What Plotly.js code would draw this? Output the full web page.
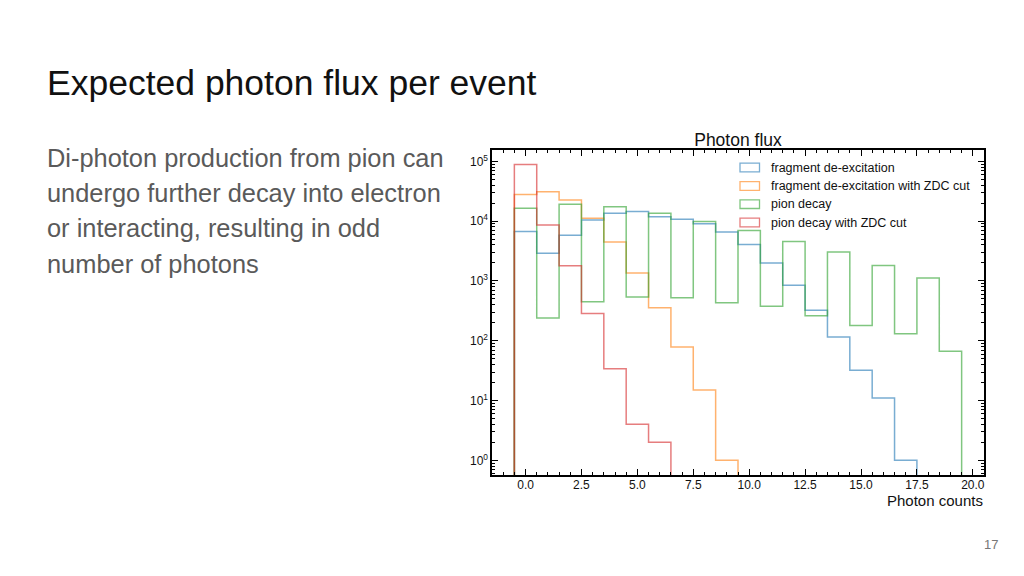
<!DOCTYPE html>
<html>
<head>
<meta charset="utf-8">
<script src="https://cdn.plot.ly/plotly-3.0.1.min.js"></script>
<style>
  html, body { margin: 0; padding: 0; background: #ffffff; }
  #chart { width: 1024px; height: 576px; }
</style>
</head>
<body>
<div id="chart"></div>
<script>
// ---------------- data ----------------
const binEdges = [-0.5, 0.5, 1.5, 2.5, 3.5, 4.5, 5.5, 6.5, 7.5, 8.5, 9.5,
                  10.5, 11.5, 12.5, 13.5, 14.5, 15.5, 16.5, 17.5, 18.5, 19.5];

const fragmentDeexcitation = [6700, 2900, 5840, 10500, 13600, 14450, 11900, 10800, 9020, 6560,
                              4070, 2000, 845, 324, 115, 32, 11, 1, 0, 0];
const fragmentDeexcitationZDC = [28000, 31000, 22600, 11200, 4470, 1360, 355, 79, 15, 1,
                                 0, 0, 0, 0, 0, 0, 0, 0, 0, 0];
const pionDecay = [16500, 240, 19200, 447, 17500, 541, 13600, 525, 9860, 430,
                   7000, 378, 4570, 263, 3040, 180, 1820, 131, 1120, 67];
const pionDecayZDC = [89000, 8600, 1800, 285, 34, 4, 2, 0, 0, 0,
                      0, 0, 0, 0, 0, 0, 0, 0, 0, 0];

const seriesNames = ["fragment de-excitation", "fragment de-excitation with ZDC cut",
                     "pion decay", "pion decay with ZDC cut"];

const yTickValues = [1, 10, 100, 1000, 10000, 100000];
const yTickLabels = ["10<sup>0</sup>", "10<sup>1</sup>", "10<sup>2</sup>",
                     "10<sup>3</sup>", "10<sup>4</sup>", "10<sup>5</sup>"];

const slideTitle = "Expected photon flux per event";
const bodyLines = ["Di-photon production from pion can",
                   "undergo further decay into electron",
                   "or interacting, resulting in odd",
                   "number of photons"];
const chartTitle = "Photon flux";
const xAxisTitle = "Photon counts";
const pageNumber = "17";

// ---------------- styling ----------------
const colors = ["rgba(31,119,180,0.6)", "rgba(255,127,14,0.6)",
                "rgba(44,160,44,0.6)", "rgba(214,39,40,0.6)"];
const FONT = "Liberation Sans, Arial, Helvetica, sans-serif";
const FLOOR = 1e-3; // zero-count bins drop below the visible log range

// plot area in pixels
const L = 492, R = 40, T = 150, B = 101, W = 1024, H = 576;
const PW = W - L - R, PH = H - T - B;
const px = x => (x - L) / PW;
const py = y => (H - B - y) / PH;

function stepTrace(counts, edges, color, name) {
  const xs = [edges[0]], ys = [FLOOR];
  for (let i = 0; i < counts.length; i++) {
    xs.push(edges[i]);
    ys.push(counts[i] > 0 ? counts[i] : FLOOR);
  }
  xs.push(edges[edges.length - 1]);
  ys.push(FLOOR);
  return {
    type: "scatter", mode: "lines", x: xs, y: ys, name: name,
    line: {shape: "hv", color: color, width: 1.5},
    hoverinfo: "skip", showlegend: false
  };
}

const allSeries = [fragmentDeexcitation, fragmentDeexcitationZDC, pionDecay, pionDecayZDC];
const traces = allSeries.map((s, i) => stepTrace(s, binEdges, colors[i], seriesNames[i]));

// ---------------- legend (manual, outlined patches) ----------------
const legendRows = [167.5, 186, 204.2, 222.5];
const shapes = [];
const annotations = [];
legendRows.forEach((yc, i) => {
  shapes.push({
    type: "rect", xref: "paper", yref: "paper",
    x0: px(740), x1: px(759.5), y0: py(yc + 4.3), y1: py(yc - 4.3),
    line: {color: colors[i], width: 1.3}, fillcolor: "rgba(0,0,0,0)"
  });
  annotations.push({
    xref: "paper", yref: "paper", x: px(769), y: py(yc),
    xanchor: "left", yanchor: "middle", showarrow: false,
    text: seriesNames[i], font: {family: FONT, size: 12.5, color: "#111"}
  });
});

// x axis title, right aligned
annotations.push({
  xref: "paper", yref: "paper", x: 1, y: py(500.5),
  xanchor: "right", yanchor: "middle", showarrow: false, borderpad: 0,
  text: xAxisTitle, font: {family: FONT, size: 15, color: "#111"}
});

// slide text
annotations.push({
  xref: "paper", yref: "paper", x: px(45), y: py(82.5),
  xanchor: "left", yanchor: "middle", showarrow: false,
  text: slideTitle, font: {family: FONT, size: 35.5, color: "#111"}
});
const bodyY = [157.5, 193, 228.2, 263.5];
bodyLines.forEach((t, i) => {
  annotations.push({
    xref: "paper", yref: "paper", x: px(45), y: py(bodyY[i]),
    xanchor: "left", yanchor: "middle", showarrow: false,
    text: t, font: {family: FONT, size: 25.4, color: "#5a5a5a"}
  });
});
annotations.push({
  xref: "paper", yref: "paper", x: px(1000), y: py(544.5),
  xanchor: "right", yanchor: "middle", showarrow: false,
  text: pageNumber, font: {family: FONT, size: 13, color: "#777"}
});

const layout = {
  width: W, height: H, autosize: false,
  margin: {l: L, r: R, t: T, b: B, pad: 0},
  paper_bgcolor: "#ffffff", plot_bgcolor: "#ffffff",
  font: {family: FONT, color: "#111"},
  showlegend: false,
  title: {
    text: chartTitle, font: {family: FONT, size: 17.5, color: "#111"},
    xref: "paper", x: 0.5, xanchor: "center",
    yref: "container", y: 1 - 139.5 / H, yanchor: "middle"
  },
  xaxis: {
    range: [-1.5, 20.5], tickmode: "linear", tick0: 0, dtick: 2.5, tickformat: ".1f",
    ticks: "inside", ticklen: 6, tickwidth: 1, tickcolor: "#000",
    ticklabelstandoff: -2,
    minor: {tickmode: "linear", tick0: 0, dtick: 0.5, ticks: "inside", ticklen: 3, tickwidth: 1, tickcolor: "#000"},
    showline: true, linecolor: "#000", linewidth: 1.6, mirror: "ticks",
    showgrid: false, zeroline: false,
    tickfont: {family: FONT, size: 12, color: "#111"}
  },
  yaxis: {
    type: "log", range: [-0.245, 5.19],
    tickmode: "array", tickvals: yTickValues, ticktext: yTickLabels,
    ticks: "inside", ticklen: 6, tickwidth: 1, tickcolor: "#000",
    minor: {dtick: "D1", ticks: "inside", ticklen: 3, tickwidth: 1, tickcolor: "#000"},
    showline: true, linecolor: "#000", linewidth: 1.6, mirror: "ticks",
    showgrid: false, zeroline: false,
    tickfont: {family: FONT, size: 12, color: "#111"}
  },
  shapes: shapes,
  annotations: annotations
};

Plotly.newPlot("chart", traces, layout, {staticPlot: true, displayModeBar: false});
</script>
</body>
</html>
